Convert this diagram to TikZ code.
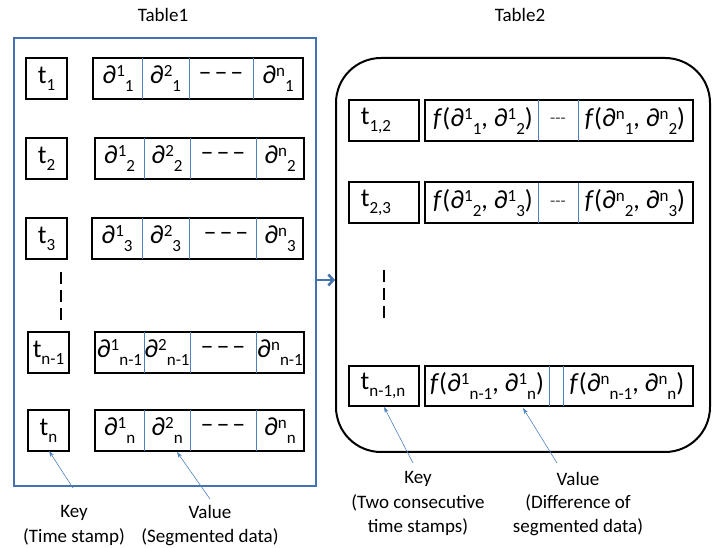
\documentclass[tikz,border=0pt]{standalone}
\usepackage{fontspec}
\setmainfont{Carlito}
\usetikzlibrary{arrows.meta}
\definecolor{ob}{RGB}{79,129,189}
\definecolor{obd}{RGB}{68,114,176}
\newcommand\smf{\fontsize{17}{17}\selectfont}
\newcommand\pd[2]{∂\raisebox{7pt}{\smf #1}\raisebox{-8pt}{\smf #2}}
\newcommand\tk[1]{t\raisebox{-7pt}{\smf #1}}
\newcommand\ddd{–\hspace{3pt}–\hspace{3pt}–}
\tikzset{
  bigfont/.style={font=\fontsize{26}{26}\selectfont},
  lab/.style={font=\fontsize{19}{19}\selectfont},
  kbox/.style={draw, line width=2pt, inner sep=0pt, minimum width=41pt, minimum height=41pt, bigfont},
  vbox/.style={draw, line width=2pt, inner sep=0pt, minimum height=41pt},
  cell/.style={inner sep=0pt, bigfont},
  smalldash/.style={inner sep=0pt, font=\fontsize{17}{17}\selectfont, text=black!75},
  divl/.style={ob, line width=0.7pt},
  thinarrow/.style={ob, line width=0.6pt, -{Stealth[length=6pt,width=4pt]}},
  vdash/.style={line width=1.3pt, dash pattern=on 12pt off 6pt},
}
\begin{document}
\begin{tikzpicture}[x=1pt,y=-1pt]
\useasboundingbox (0,0) rectangle (716,548);
% titles
\node[lab] (ttl1) at (163,15) {Table1};
\node[lab] (ttl2) at (520,15) {Table2};
% Table 1 frame
\node[draw=obd, line width=2pt, inner sep=0pt, minimum width=302pt, minimum height=448pt] (T1) at (165,262) {};
% Table 2 frame
\node[draw, line width=2pt, rounded corners=45pt, inner sep=0pt, minimum width=374pt, minimum height=394pt] (T2) at (523,255) {};
% big arrow
\draw[obd, line width=2.5pt, -{Straight Barb[length=5pt,width=11pt]}] ([yshift=-18pt]T1.east) -- ([yshift=-25pt]T2.west);

% ---- Table 1 rows
% row 1
\node[kbox, minimum width=41pt] (k1) at (46.5,78.5) {\tk{1}};
\node[vbox, minimum width=210pt] (v1) at (198,78.5) {};
\draw[divl] (142,58) -- (142,99); \draw[divl] (189,58) -- (189,99); \draw[divl] (253,58) -- (253,99);
\node[cell] (c11) at (118,78.5) {\pd{1}{1}};
\node[cell] (c12) at (165.5,78.5) {\pd{2}{1}};
\node[cell] (c13) at (221,76) {\ddd};
\node[cell] (c14) at (278,78.5) {\pd{n}{1}};
% row 2
\node[kbox] (k2) at (46.5,158.5) {\tk{2}};
\node[vbox, minimum width=209pt] (v2) at (199.5,158.5) {};
\draw[divl] (144,138) -- (144,179); \draw[divl] (190,138) -- (190,179); \draw[divl] (256,138) -- (256,179);
\node[cell] (c21) at (119.5,158.5) {\pd{1}{2}};
\node[cell] (c22) at (167,158.5) {\pd{2}{2}};
\node[cell] (c23) at (223,156) {\ddd};
\node[cell] (c24) at (280,158.5) {\pd{n}{2}};
% row 3
\node[kbox] (k3) at (46.5,238.5) {\tk{3}};
\node[vbox, minimum width=211pt] (v3) at (197.5,238.5) {};
\draw[divl] (142,218) -- (142,259); \draw[divl] (189,218) -- (189,259); \draw[divl] (256,218) -- (256,259);
\node[cell] (c31) at (117,238.5) {\pd{1}{3}};
\node[cell] (c32) at (165.5,238.5) {\pd{2}{3}};
\node[cell] (c33) at (226,236) {\ddd};
\node[cell] (c34) at (280,238.5) {\pd{n}{3}};
% dashes
\coordinate (d1a) at (61,272); \coordinate (d1b) at (61,322);
\draw[vdash] (d1a) -- (d1b);
% row n-1
\node[kbox] (k4) at (48.5,352.5) {\tk{n-1}};
\node[vbox, minimum width=209pt] (v4) at (199.5,352.5) {};
\draw[divl] (144,332) -- (144,373); \draw[divl] (190,332) -- (190,373); \draw[divl] (256,332) -- (256,373);
\node[cell] (c41) at (119.5,352.5) {\pd{1}{n-1}};
\node[cell] (c42) at (167,352.5) {\pd{2}{n-1}};
\node[cell] (c43) at (223,350) {\ddd};
\node[cell] (c44) at (280,352.5) {\pd{n}{n-1}};
% row n
\node[kbox] (k5) at (48.5,430.5) {\tk{n}};
\node[vbox, minimum width=209pt] (v5) at (199.5,430.5) {};
\draw[divl] (144,410) -- (144,451); \draw[divl] (190,410) -- (190,451); \draw[divl] (256,410) -- (256,451);
\node[cell] (c51) at (119.5,430.5) {\pd{1}{n}};
\node[cell] (c52) at (167,430.5) {\pd{2}{n}};
\node[cell] (c53) at (223,428) {\ddd};
\node[cell] (c54) at (280,430.5) {\pd{n}{n}};
% labels table 1
\node[lab] (key1) at (74,513) {Key};
\node[lab] (key1b) at (74,537) {(Time stamp)};
\node[lab] (val1) at (210,512) {Value};
\node[lab] (val1b) at (210,537) {(Segmented data)};
\coordinate (ka1) at (73,488); \coordinate (kh1) at (49,451);
\coordinate (va1) at (210,499); \coordinate (vh1) at (177,452);
\draw[thinarrow] (ka1) -- (kh1);
\draw[thinarrow] (va1) -- (vh1);

% ---- Table 2 rows
\node[kbox, minimum width=70pt] (p1) at (384,120.5) {};
\node[cell] (p1t) at (376,120.5) {\tk{1,2}};
\node[vbox, minimum width=268pt] (w1) at (559,120.5) {};
\draw[divl] (538,100) -- (538,141); \draw[divl] (578,100) -- (578,141);
\node[cell] (e11) at (483,120.5) {\textit{f}(\pd{1}{1}, \pd{1}{2})};
\node[smalldash] (e12) at (558,121) {-{}-{}-};
\node[cell] (e13) at (635,120.5) {\textit{f}(\pd{n}{1}, \pd{n}{2})};

\node[kbox, minimum width=70pt] (p2) at (384,203) {};
\node[cell] (p2t) at (376,203) {\tk{2,3}};
\node[vbox, minimum width=268pt] (w2) at (559,203) {};
\draw[divl] (538,183) -- (538,223); \draw[divl] (578,183) -- (578,223);
\node[cell] (e21) at (483,203) {\textit{f}(\pd{1}{2}, \pd{1}{3})};
\node[smalldash] (e22) at (558,203.5) {-{}-{}-};
\node[cell] (e23) at (635,203) {\textit{f}(\pd{n}{2}, \pd{n}{3})};

\coordinate (d2a) at (384,270); \coordinate (d2b) at (384,320);
\draw[vdash] (d2a) -- (d2b);

\node[kbox, minimum width=70pt, minimum height=40pt] (p3) at (384,386) {};
\node[cell] (p3t) at (383,386) {\tk{n-1,n}};
\node[vbox, minimum width=268pt, minimum height=40pt] (w3) at (559,386) {};
\draw[divl] (549,366) -- (549,406); \draw[divl] (563,366) -- (563,406);
\node[cell] (e31) at (487,386) {\textit{f}(\pd{1}{n-1}, \pd{1}{n})};
\node[cell] (e33) at (627,386) {\textit{f}(\pd{n}{n-1}, \pd{n}{n})};

% labels table 2
\node[lab] (key2) at (418,479) {Key};
\node[lab] (key2b) at (418,503) {(Two consecutive};
\node[lab] (key2c) at (418,527) {time stamps)};
\node[lab] (val2) at (578,479) {Value};
\node[lab] (val2b) at (578,503) {(Difference of};
\node[lab] (val2c) at (578,527) {segmented data)};
\coordinate (ka2) at (413,463); \coordinate (va2) at (557,463);
\coordinate (vh2) at (523,408);
\draw[thinarrow] (ka2) -- (p3.south);
\draw[thinarrow] (va2) -- (vh2);
\end{tikzpicture}
\end{document}
